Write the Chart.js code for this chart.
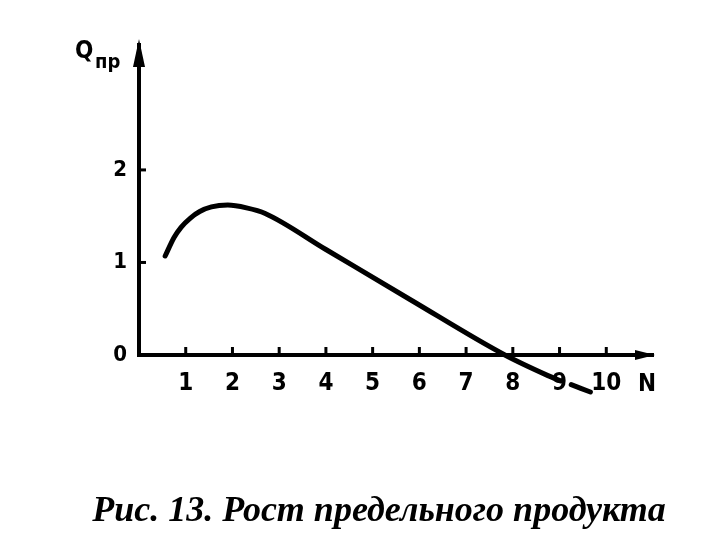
<!DOCTYPE html>
<html>
<head>
<meta charset="utf-8">
<script src="https://cdn.jsdelivr.net/npm/chart.js@4"></script>
<style>
  body { margin: 0; background: #fff; }
  canvas { display: block; }
</style>
</head>
<body>
<canvas id="myChart" width="711" height="539"></canvas>
<script>
// data (N = workers, Q = marginal product)
const nValues = [0.56, 0.75, 0.9, 1.1, 1.3, 1.55, 1.9, 2.3, 2.7, 4.0, 5.8, 7.83, 8.74, 9.02, 9.1, 9.25, 9.66];
const qValues = [1.07, 1.27, 1.38, 1.48, 1.55, 1.6, 1.62, 1.59, 1.53, 1.14, 0.60, 0, -0.22, -0.28, null, -0.32, -0.40];
const xTickValues = [1, 2, 3, 4, 5, 6, 7, 8, 9, 10];
const yTickValues = [0, 1, 2];
const caption = 'Рис. 13. Рост предельного продукта';

const points = nValues.map((n, i) => ({x: n, y: qValues[i]}));
const labelFont = '"DejaVu Sans Condensed", "Liberation Sans Narrow", "Liberation Sans", sans-serif';

// inward tick marks, arrows, axis names and caption
const extras = {
    id: 'extras',
    afterDraw(chart) {
        const ctx = chart.ctx;
        const xs = chart.scales.x;
        const ys = chart.scales.y;
        const x0 = xs.getPixelForValue(0);
        const y0 = ys.getPixelForValue(0);
        ctx.save();
        ctx.strokeStyle = '#000';
        ctx.fillStyle = '#000';
        ctx.lineWidth = 3;
        xTickValues.forEach(v => {
            const px = xs.getPixelForValue(v);
            ctx.beginPath();
            ctx.moveTo(px, y0);
            ctx.lineTo(px, y0 - 8);
            ctx.stroke();
        });
        yTickValues.forEach(v => {
            if (v === 0) return;
            const py = ys.getPixelForValue(v);
            ctx.beginPath();
            ctx.moveTo(x0, py);
            ctx.lineTo(x0 + 7, py);
            ctx.stroke();
        });
        // arrow heads
        const right = chart.chartArea.right;
        const top = chart.chartArea.top;
        ctx.beginPath();
        ctx.moveTo(right + 2, y0);
        ctx.lineTo(right - 18, y0 - 5);
        ctx.lineTo(right - 18, y0 + 5);
        ctx.closePath();
        ctx.fill();
        ctx.beginPath();
        ctx.moveTo(x0, top - 6);
        ctx.lineTo(x0 - 6, top + 22);
        ctx.lineTo(x0 + 6, top + 22);
        ctx.closePath();
        ctx.fill();

        // axis names
        ctx.textBaseline = 'alphabetic';
        ctx.textAlign = 'left';
        ctx.font = 'bold 24px ' + labelFont;
        ctx.fillText('Q', 75, 58);
        ctx.font = 'bold 20px ' + labelFont;
        ctx.fillText('пр', 95, 68);
        ctx.font = 'bold 24px ' + labelFont;
        ctx.fillText('N', 638, 391);

        // caption
        ctx.font = 'bold italic 36px "Liberation Serif", "DejaVu Serif", serif';
        ctx.textAlign = 'center';
        ctx.fillText(caption, 379, 521);
        ctx.restore();
    }
};

const data = {
    datasets: [{
        label: 'Qпр',
        data: points,
        borderColor: '#000',
        borderWidth: 5,
        pointRadius: 0,
        fill: false,
        spanGaps: false,
        cubicInterpolationMode: 'monotone',
        borderCapStyle: 'round',
        clip: false
    }]
};

const config = {
    type: 'line',
    data,
    options: {
        responsive: false,
        animation: false,
        layout: {
            padding: {left: 91, top: 45, right: 58, bottom: 144}
        },
        plugins: {
            legend: {display: false},
            tooltip: {enabled: false}
        },
        scales: {
            x: {
                type: 'linear',
                min: 0,
                max: 11,
                afterFit: s => { s.height = 40; },
                afterBuildTicks: s => { s.ticks = xTickValues.map(v => ({value: v})); },
                grid: {display: false, drawTicks: false},
                border: {display: true, color: '#000', width: 4},
                ticks: {
                    color: '#000',
                    padding: 14,
                    font: {family: labelFont, weight: 'bold', size: 24},
                    maxRotation: 0
                }
            },
            y: {
                type: 'linear',
                min: 0,
                max: 3.35,
                afterFit: s => { s.width = 48; },
                afterBuildTicks: s => { s.ticks = yTickValues.map(v => ({value: v})); },
                grid: {display: false, drawTicks: false},
                border: {display: true, color: '#000', width: 4},
                ticks: {
                    color: '#000',
                    padding: 12,
                    font: {family: labelFont, weight: 'bold', size: 22}
                }
            }
        }
    },
    plugins: [extras]
};

const myChart = new Chart(document.getElementById('myChart'), config);
</script>
</body>
</html>
